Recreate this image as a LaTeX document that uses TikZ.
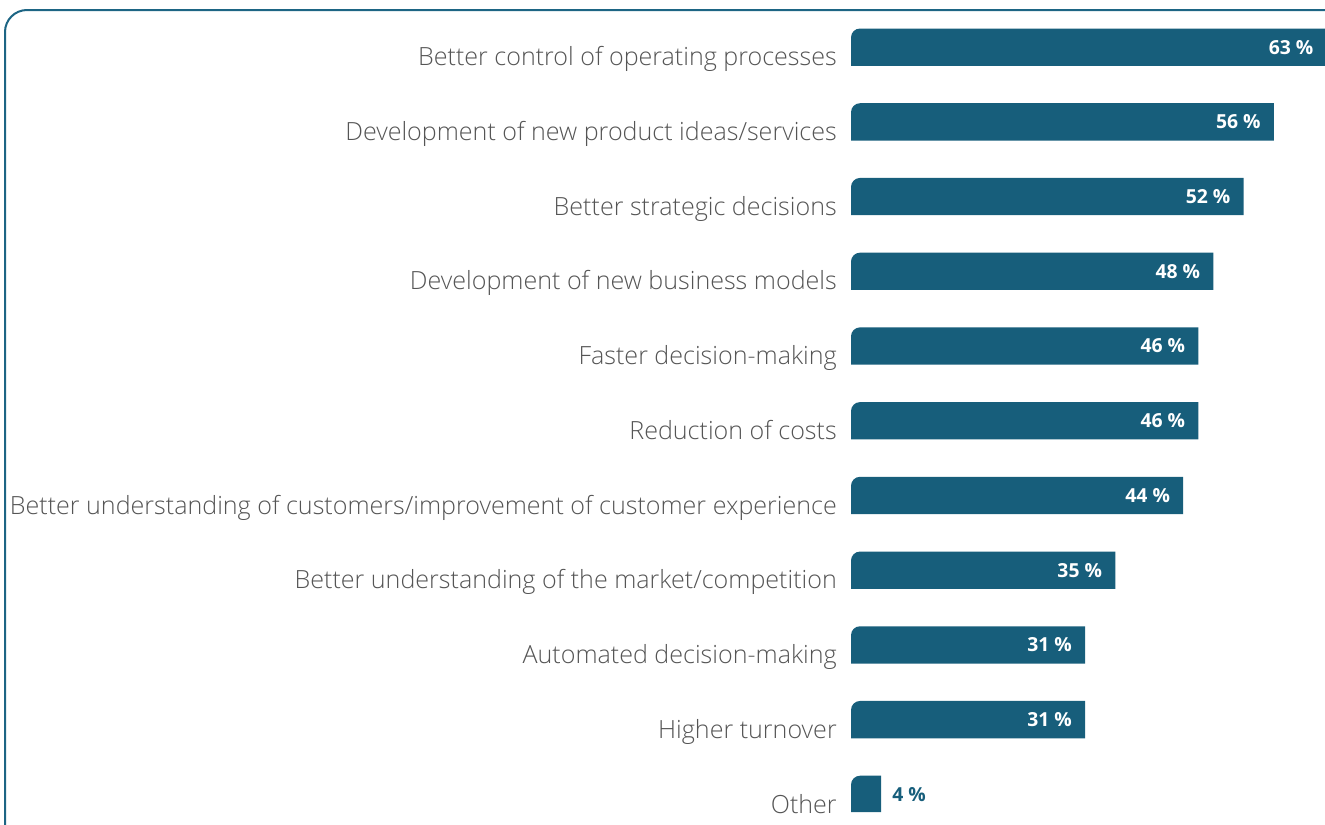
\documentclass[tikz,border=0pt]{standalone}
\usepackage{fontspec}
\setmainfont{Open Sans}[UprightFont=* Light, BoldFont=* Bold]
\definecolor{barblue}{HTML}{175E7B}
\definecolor{labelgray}{HTML}{555555}
\definecolor{framecol}{HTML}{1D6584}

\begin{document}
\begin{tikzpicture}[x=0.75pt,y=-0.75pt,
    barlabel/.style={anchor=base east, text=labelgray, inner sep=0pt,
      font=\fontsize{18.8}{22}\selectfont},
    barvalue/.style={anchor=east, text=white, inner sep=0pt,
      font=\fontsize{14.5}{17}\selectfont\bfseries}]
  \useasboundingbox (0,0) rectangle (1325,825);
  \clip (0,0) rectangle (1325,825);
  % frame
  \draw[framecol, line width=1.5pt] (5,850) -- (5,32) arc[start angle=180, end angle=270, radius=22] -- (1350,10);
  % bars
  \foreach \v/\t [count=\i from 0] in {63/Better control of operating processes,
      56/{Development of new product ideas/services},
      52/Better strategic decisions,
      48/Development of new business models,
      46/Faster decision-making,
      46/Reduction of costs,
      44/{Better understanding of customers/improvement of customer experience},
      35/{Better understanding of the market/competition},
      31/Automated decision-making,
      31/Higher turnover}{
    \pgfmathsetmacro{\ytop}{28.5+74.72*\i}
    \pgfmathsetmacro{\ybot}{\ytop+37.3}
    \pgfmathsetmacro{\xend}{851+7.55*\v}
    \fill[barblue] (851,\ybot) -- (851,\ytop+9) arc[start angle=180, end angle=270, radius=9]
      -- (\xend,\ytop) -- (\xend,\ybot) -- cycle;
    \node[barlabel] (lab\i) at (837,\ybot) {\t};
    \node[barvalue] (val\i) at (\xend-13,\ytop+18.6) {\v~\%};
  }
  % other
  \pgfmathsetmacro{\ytop}{28.5+74.72*10}
  \fill[barblue] (851,812) -- (851,\ytop+9) arc[start angle=180, end angle=270, radius=9]
    -- (881,\ytop) -- (881,812) -- cycle;
  \node[barlabel] (lab10) at (837,813) {Other};
  \node[barvalue, anchor=west, text=barblue] (val10) at (892,\ytop+18.6) {4~\%};
\end{tikzpicture}
\end{document}
